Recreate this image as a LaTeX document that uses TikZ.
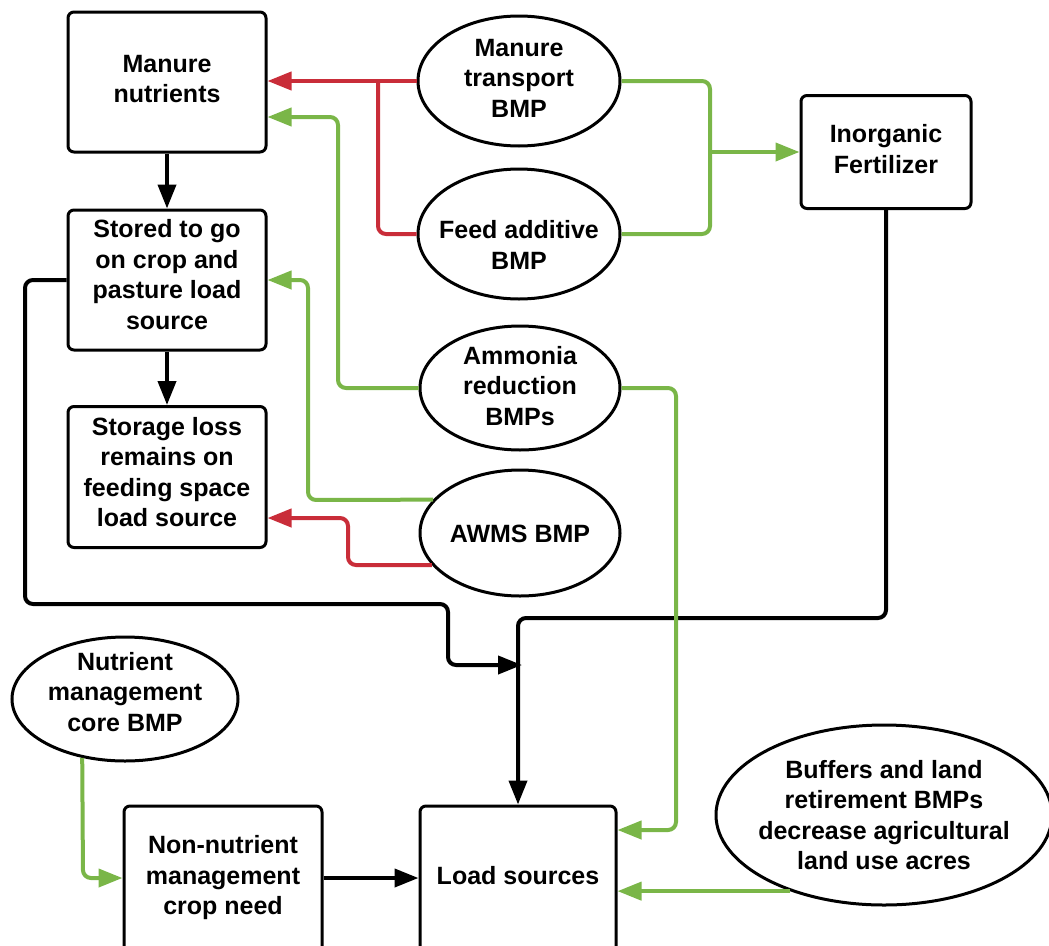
\documentclass[tikz,border=0pt]{standalone}
\usepackage{fontspec}
\setmainfont{Liberation Sans}
\usetikzlibrary{arrows.meta,shapes.geometric}
\definecolor{lcred}{HTML}{C92D39}
\definecolor{lcgreen}{HTML}{7AB648}
\tikzset{
  txt/.style={align=center, inner sep=0pt, font=\bfseries\fontsize{25}{30.5}\selectfont},
  box/.style={draw, line width=3pt, rounded corners=6pt, inner sep=0pt},
  oval/.style={draw, ellipse, line width=3pt, inner sep=0pt},
  conn/.style={line width=4pt, rounded corners=8pt},
  tip/.style={-{Triangle[length=24pt,width=18pt]}},
  blk/.style={conn, black},
  rd/.style={conn, lcred},
  gr/.style={conn, lcgreen}
}
\begin{document}
\begin{tikzpicture}[x=1pt,y=-1pt]
\useasboundingbox (0,0) rectangle (1049,945);
\clip (0,0) rectangle (1049,945);
% boxes
\node[box, minimum width=198pt, minimum height=140pt, label={[txt,yshift=3pt]center:Manure\\nutrients}] (mn) at (167,82) {};
\node[box, minimum width=198pt, minimum height=140pt, label={[txt,yshift=5.5pt]center:Stored to go\\on crop and\\pasture load\\source}] (st) at (167,280) {};
\node[box, minimum width=198pt, minimum height=141pt, label={[txt,yshift=5pt]center:Storage loss\\remains on\\feeding space\\load source}] (sl) at (167,477) {};
\node[box, minimum width=170pt, minimum height=113pt, label={[txt,yshift=3pt]center:Inorganic\\Fertilizer}] (inf) at (886,152) {};
\node[box, minimum width=198pt, minimum height=150pt, label={[txt,yshift=3pt]center:Non-nutrient\\management\\crop need}] (nn) at (223,881) {};
\node[box, minimum width=196pt, minimum height=150pt, label={[txt,yshift=5pt]center:Load sources}] (ls) at (518,881) {};
% ellipses
\node[oval, minimum width=202pt, minimum height=130pt, label={[txt,yshift=3pt]center:Manure\\transport\\BMP}] (mt) at (519,81) {};
\node[oval, minimum width=202pt, minimum height=130pt, label={[txt,yshift=-11pt]center:Feed additive\\BMP}] (fa) at (519,234) {};
\node[oval, minimum width=200pt, minimum height=124pt, label={[txt,yshift=2pt]center:Ammonia\\reduction\\BMPs}] (am) at (520,388) {};
\node[oval, minimum width=200pt, minimum height=126pt, label={[txt,yshift=-1pt]center:AWMS BMP}] (aw) at (520,533) {};
\node[oval, minimum width=226pt, minimum height=124pt, label={[txt,yshift=7pt]center:Nutrient\\management\\core BMP}] (nc) at (125,699) {};
\node[oval, minimum width=336pt, minimum height=180pt, label={[txt,yshift=0pt]center:Buffers and land\\retirement BMPs\\decrease agricultural\\land use acres}] (bf) at (884,815) {};
% junction coordinates
\coordinate (rj) at (378,82);
\coordinate (gj) at (710,152);
\coordinate (jn) at (522,665);
% black arrows
\draw[blk,tip] (mn.south) -- (st.north);
\draw[blk,tip] (st.south) -- (sl.north);
\draw[blk,tip] (st.west) -- (25,280) -- (25,604) -- (448,604) -- (448,665) -- (jn);
\draw[blk,tip] (inf.south) -- (886,618) -- (518,618) -- (ls.north);
\draw[blk,tip] (nn.east |- 0,878) -- (ls.west |- 0,878);
% red arrows
\draw[rd,tip] (mt.west) -- (mt.west -| mn.east);
\draw[rd] (fa.west) -| (rj);
\draw[rd,tip] (aw.200) -- (348,565) -- (348,518) -- (sl.east |- 0,518);
% green arrows
\draw[gr,tip] (am.west) -- (338,388) -- (338,117) -- (mn.east |- 0,117);
\draw[gr,tip] (aw.159) -- (308,500) -- (308,280) -- (st.east);
\draw[gr] (mt.east) -- (710,81) -- (gj);
\draw[gr] (fa.east) -- (710,234) -- (gj);
\draw[gr,tip] (gj) -- (gj -| inf.west);
\draw[gr,tip] (am.east) -- (676,388) -- (676,830) -- (ls.east |- 0,830);
\draw[gr,tip] (nc.234) -- (83,878) -- (nn.west |- 0,878);
\draw[gr,tip] (bf.219) -- (ls.east |- bf.219);
\end{tikzpicture}
\end{document}
